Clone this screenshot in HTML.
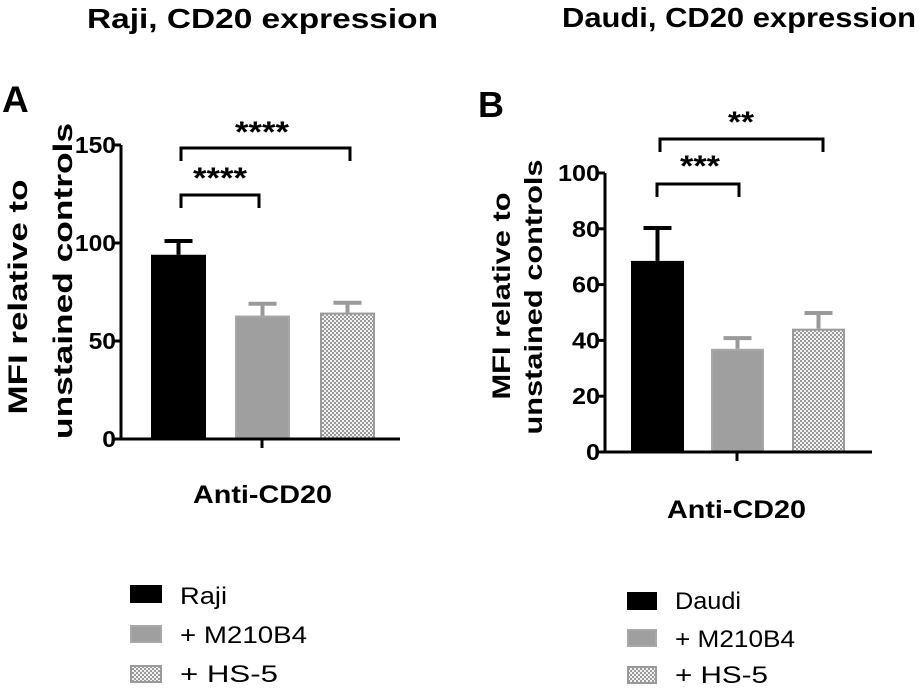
<!DOCTYPE html>
<html><head><meta charset="utf-8">
<style>
html,body{margin:0;padding:0;background:#fff;width:922px;height:688px;overflow:hidden}
svg{display:block;font-family:"Liberation Sans",Arial,sans-serif}
</style></head>
<body>
<svg id="fig" width="922" height="688" viewBox="0 0 922 688">
<defs>
<pattern id="dots" width="4" height="4" patternUnits="userSpaceOnUse">
<rect width="4" height="4" fill="#f2f2f2"/>
<rect width="2" height="2" fill="#9a9a9a"/>
<rect x="2" y="2" width="2" height="2" fill="#9a9a9a"/>
</pattern>
</defs>
<text x="87" y="28" font-size="28" font-weight="bold" textLength="351" lengthAdjust="spacingAndGlyphs">Raji, CD20 expression</text>
<text x="562" y="27" font-size="28" font-weight="bold" textLength="354" lengthAdjust="spacingAndGlyphs">Daudi, CD20 expression</text>
<text x="2" y="112" font-size="37" font-weight="bold">A</text>
<text x="478" y="117" font-size="36" font-weight="bold">B</text>
<g id="chartA"></g>
<g id="chartB"></g>
</svg>
<script>
// Panel A data
const groupsA = ["Raji", "+ M210B4", "+ HS-5"];
const meansA = [94, 63, 64.5];
const errorsA = [7, 6, 5];
const ticksA = [0, 50, 100, 150];
// Panel B data
const groupsB = ["Daudi", "+ M210B4", "+ HS-5"];
const meansB = [68.5, 37, 44.2];
const errorsB = [11.8, 3.8, 5.6];
const ticksB = [0, 20, 40, 60, 80, 100];
const sigA = ["****", "****"];
const sigB = ["***", "**"];

const NS = "http://www.w3.org/2000/svg";
function mk(parent, tag, attrs, txt) {
  const e = document.createElementNS(NS, tag);
  for (const k in attrs) e.setAttribute(k, attrs[k]);
  if (txt !== undefined) e.textContent = txt;
  parent.appendChild(e);
  return e;
}
const fills = ["#000", "#9f9f9f", "url(#dots)"];
const strokes = ["#000", "#a8a8a8", "#9a9a9a"];
const LA = "spacingAndGlyphs";

function draw(g, cfg) {
  const y = v => cfg.y0 - (v - cfg.min) / (cfg.max - cfg.min) * (cfg.y0 - cfg.yTop);
  cfg.means.forEach((m, i) => {
    const bx = cfg.barX[i], bw = cfg.barW;
    const cx = bx + bw / 2;
    const top = y(m), et = y(m + cfg.errors[i]);
    const err = mk(g, "path", {d: `M${cx},${top} V${et} M${cx - 14},${et} H${cx + 14}`, stroke: i === 0 ? "#000" : "#9a9a9a", "stroke-width": 4, fill: "none"});
    
    
    const r = mk(g, "rect", {x: bx + 1, y: top + 1, width: bw - 2, height: cfg.y0 - top - 1, fill: fills[i], stroke: strokes[i], "stroke-width": 2});
    
    
  });
  const ax = mk(g, "path", {d: `M${cfg.ax},${cfg.yTop} V${cfg.y0} H${cfg.axEnd} M${cfg.xTick},${cfg.y0} V${cfg.y0 + 9}`, stroke: "#000", "stroke-width": 3, fill: "none"});
  
  
  cfg.ticks.forEach(t => {
    const tk = mk(g, "line", {x1: cfg.ax - 8, x2: cfg.ax, y1: y(t), y2: y(t), stroke: "#000", "stroke-width": 3});
    
    
    const s = String(t);
    const tl = mk(g, "text", {x: cfg.tickRight - cfg.digitW * s.length, y: y(t) + 8, "font-size": 23, "font-weight": "bold", textLength: cfg.digitW * s.length, lengthAdjust: LA}, s);
    
    
  });
  const yt1 = mk(g, "text", {transform: `translate(${cfg.yt[0]},${cfg.yt[1]}) rotate(-90)`, x: -cfg.yt[2] / 2, y: 0, "font-size": cfg.ytFont, "font-weight": "bold", textLength: cfg.yt[2], lengthAdjust: LA}, "MFI relative to");
  
  
  const yt2 = mk(g, "text", {transform: `translate(${cfg.yt[3]},${cfg.yt[4]}) rotate(-90)`, x: -cfg.yt[5] / 2, y: 0, "font-size": cfg.ytFont, "font-weight": "bold", textLength: cfg.yt[5], lengthAdjust: LA}, "unstained controls");
  
  
  const xt = mk(g, "text", {x: cfg.xt[0], y: cfg.xt[1], "font-size": 25, "font-weight": "bold", textLength: cfg.xt[2], lengthAdjust: LA}, "Anti-CD20");
  
  
  cfg.brackets.forEach((b, i) => {
    const p = mk(g, "path", {d: `M${b[0]},${b[2] + 13} V${b[2]} H${b[1]} V${b[2] + 13}`, stroke: "#000", "stroke-width": 3, fill: "none"});
    
    
    const n = cfg.sig[i].length;
    const s = mk(g, "text", {x: b[3], y: b[4], "font-size": 30, "font-weight": "bold", textLength: 14 * n - 2, lengthAdjust: LA}, cfg.sig[i]);
    
    
  });
  cfg.groups.forEach((name, i) => {
    const ly = cfg.legY + i * cfg.legGap;
    const sw = mk(g, "rect", {x: cfg.legX + 1, y: ly + 1, width: cfg.legW - 2, height: 16, fill: fills[i], stroke: strokes[i], "stroke-width": 2});
    
    
    const lt = mk(g, "text", {x: cfg.legTX, y: cfg.legBase[i], "font-size": 24, textLength: cfg.legLen[i], lengthAdjust: LA}, name);
    
    
  });
}

draw(document.getElementById("chartA"), {
  means: meansA, errors: errorsA, ticks: ticksA, groups: groupsA, sig: sigA,
  min: 0, max: 150, y0: 439, yTop: 145, ax: 121, axEnd: 400, xTick: 262,
  barX: [151, 235, 320], barW: 55, tickRight: 116, digitW: 13.7,
  ytFont: 27, yt: [27, 297, 235, 72, 281, 316],
  xt: [193, 503, 139],
  brackets: [[181, 259, 195, 193, 188], [181, 350, 148, 235, 142]],
  legX: 130, legY: 585, legGap: 40, legW: 32,
  legTX: 180, legBase: [604, 643, 682], legLen: [47, 127, 98]
});
draw(document.getElementById("chartB"), {
  means: meansB, errors: errorsB, ticks: ticksB, groups: groupsB, sig: sigB,
  min: 0, max: 100, y0: 452, yTop: 173, ax: 605, axEnd: 872, xTick: 737,
  barX: [631, 711, 792], barW: 53, tickRight: 600, digitW: 14,
  ytFont: 25, yt: [510, 296, 207, 542, 297, 275],
  xt: [667, 518, 139],
  brackets: [[657, 739, 184, 680, 176], [660, 823, 139, 728, 132]],
  legX: 627, legY: 592, legGap: 37, legW: 30,
  legTX: 675, legBase: [609, 647, 683], legLen: [66, 120, 93]
});
</script>
</body></html>
